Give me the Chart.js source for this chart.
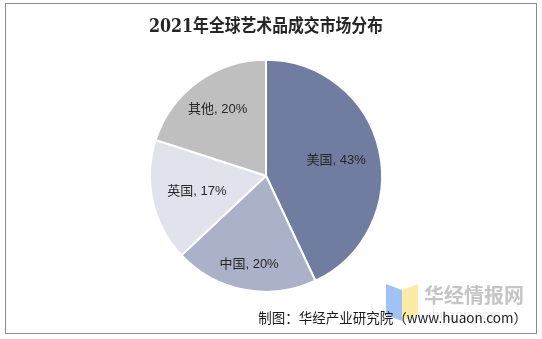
<!DOCTYPE html>
<html>
<head>
<meta charset="utf-8">
<script src="https://cdn.jsdelivr.net/npm/chart.js@4.4.0/dist/chart.umd.min.js"></script>
<style>
  html, body { margin: 0; padding: 0; background: #fff; }
  #wrap { position: relative; width: 542px; height: 339px; }
  #frame { position: absolute; left: 5px; top: 3px; width: 530px; height: 329px; border: 1px solid #8c8c8c; pointer-events: none; }
  canvas { position: absolute; left: 0; top: 0; }
</style>
</head>
<body>
<div id="wrap">
  <canvas id="chart" width="542" height="339"></canvas>
  <div id="frame"></div>
</div>
<script>
// data
const titleText = "2021年全球艺术品成交市场分布";
const sourceText = "制图：华经产业研究院（www.huaon.com）";
const regions = ["美国", "中国", "英国", "其他"];
const shares = [43, 20, 17, 20];
const sliceColors = ["#717da0", "#abb1c8", "#e0e3eb", "#bfbfbf"];

// where each label sits along its slice's mid angle (fraction of radius)
const labelDist = [0.62, 0.78, 0.61, 0.71];

const sliceLabels = {
    id: "sliceLabels",
    afterDatasetsDraw(chart) {
        const ctx = chart.ctx;
        const meta = chart.getDatasetMeta(0);
        ctx.save();
        ctx.font = "13px 'Liberation Sans', 'Noto Sans CJK SC', sans-serif";
        ctx.fillStyle = "#262626";
        ctx.textAlign = "center";
        ctx.textBaseline = "middle";
        meta.data.forEach((arc, i) => {
            const mid = (arc.startAngle + arc.endAngle) / 2;
            const r = arc.outerRadius * labelDist[i];
            const x = arc.x + Math.cos(mid) * r;
            const y = arc.y + Math.sin(mid) * r;
            ctx.fillText(regions[i] + ", " + shares[i] + "%", x, y);
        });
        ctx.restore();
    }
};

const decorations = {
    id: "decorations",
    afterDraw(chart) {
        const ctx = chart.ctx;
        ctx.save();
        // logo (book shape)
        ctx.fillStyle = "rgba(120,170,240,0.7)";
        ctx.beginPath();
        ctx.moveTo(386, 284); ctx.lineTo(402, 290); ctx.lineTo(402, 321); ctx.lineTo(386, 315);
        ctx.closePath(); ctx.fill();
        ctx.fillStyle = "rgba(255,225,130,0.7)";
        ctx.beginPath();
        ctx.moveTo(402, 290); ctx.lineTo(418, 284); ctx.lineTo(418, 315); ctx.lineTo(402, 321);
        ctx.closePath(); ctx.fill();
        // watermark text
        ctx.fillStyle = "rgba(150,150,150,0.55)";
        ctx.font = "bold 20px 'Noto Sans CJK SC', sans-serif";
        ctx.textBaseline = "middle";
        ctx.fillText("华经情报网", 424, 295);
        ctx.fillStyle = "rgba(180,180,180,0.35)";
        ctx.font = "14px 'Liberation Sans', sans-serif";
        ctx.fillText("huaon.com", 432, 316);
        // source line
        ctx.fillStyle = "#1a1a1a";
        ctx.font = "13.5px 'Noto Sans CJK SC', sans-serif";
        ctx.textAlign = "right";
        ctx.fillText(sourceText, 527, 318);
        ctx.restore();
    }
};

new Chart(document.getElementById("chart"), {
    type: "pie",
    data: {
        labels: regions,
        datasets: [{
            data: shares,
            backgroundColor: sliceColors,
            borderColor: "#ffffff",
            borderWidth: 2,
        }],
    },
    options: {
        responsive: false,
        animation: false,
        layout: { padding: { left: 149, right: 159, top: 17, bottom: 43 } },
        plugins: {
            legend: { display: false },
            tooltip: { enabled: false },
            title: {
                display: true,
                text: titleText,
                color: "#262626",
                font: { size: 18, weight: "bold", family: "'DejaVu Serif', 'Noto Sans CJK SC', serif" },
                padding: { top: 0, bottom: 17 },
            },
        },
    },
    plugins: [sliceLabels, decorations],
});
</script>
</body>
</html>
